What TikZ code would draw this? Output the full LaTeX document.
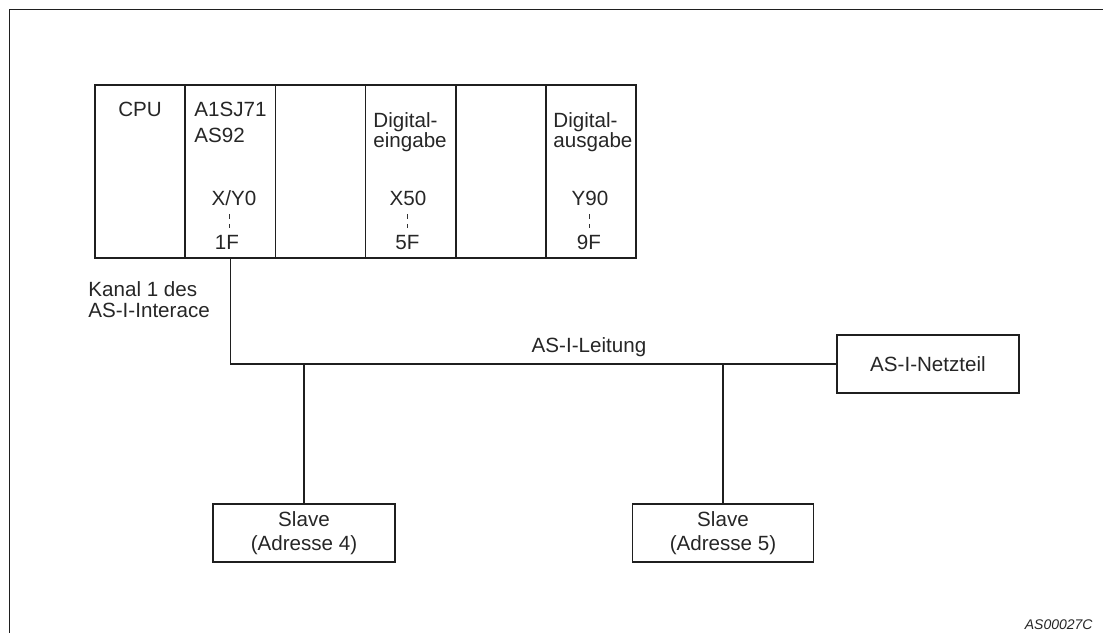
\documentclass[tikz,border=0pt]{standalone}
\usepackage{fontspec}
\setmainfont{Liberation Sans}
\begin{document}
\begin{tikzpicture}[x=0.5bp,y=-0.5bp,
  ln/.style={line width=0.75bp,draw=black!88},
  txt/.style={inner sep=0pt,font=\fontsize{10.3bp}{12bp}\selectfont,text=black!85},
  modbox/.style={ln,rectangle,inner sep=0pt,minimum width=45.1bp,minimum height=86.5bp},
  plainbox/.style={ln,rectangle,inner sep=0pt,minimum height=29bp,align=center,
     font=\fontsize{10.3bp}{12bp}\selectfont,text=black!85},
  dots/.style={line width=0.45bp,draw=black!80,dash pattern=on 2.3bp off 2.6bp}]
\useasboundingbox (0,0) rectangle (1103,633);
% frame
\draw[line width=0.7bp,black!88] (9.3,633) -- (9.3,9.3) -- (1103,9.3);
% rack modules
\node[modbox] (m1) at (140.1,171.5) {};
\node[modbox] (m2) at (230.3,171.5) {};
\node[modbox] (m3) at (320.5,171.5) {};
\node[modbox] (m4) at (410.7,171.5) {};
\node[modbox] (m5) at (500.9,171.5) {};
\node[modbox] (m6) at (591.1,171.5) {};
% module texts
\node[txt,anchor=base] (tcpu) at (140,117) {CPU};
\node[txt,anchor=base west] (ta1) at (194,117) {A1SJ71};
\node[txt,anchor=base west] (ta2) at (194,143) {AS92};
\node[txt,anchor=base] (txy) at (234,206) {X/Y0};
\node[txt,anchor=base] (t1f) at (227,250) {1F};
\draw[dots] (229,214) -- (229,229);
\node[txt,anchor=base west] (td1) at (373,128) {Digital-};
\node[txt,anchor=base west] (te1) at (373,147.5) {eingabe};
\node[txt,anchor=base] (tx50) at (408,206) {X50};
\node[txt,anchor=base] (t5f) at (407.5,250) {5F};
\draw[dots] (407,214) -- (407,229);
\node[txt,anchor=base west] (td2) at (553,128) {Digital-};
\node[txt,anchor=base west] (te2) at (553,147.5) {ausgabe};
\node[txt,anchor=base] (ty90) at (590,206) {Y90};
\node[txt,anchor=base] (t9f) at (589,250) {9F};
\draw[dots] (589,214) -- (589,229);
% labels
\node[txt,anchor=base west] (k1) at (88,297) {Kanal 1 des};
\node[txt,anchor=base west] (k2) at (88,318) {AS-I-Interace};
\node[txt,anchor=base] (lt) at (589,353) {AS-I-Leitung};
% boxes
\node[plainbox,minimum width=91bp] (netz) at (928,364) {AS-I-Netzteil};
\node[plainbox,minimum width=91bp] (s1) at (304,533) {Slave\\(Adresse 4)};
\node[plainbox,minimum width=90.5bp] (s2) at (723,533) {Slave\\(Adresse 5)};
% bus
\draw[ln] (m2.south) |- (netz.west);
\draw[ln] (s1.north) -- (s1.north |- netz.west);
\draw[ln] (s2.north) -- (s2.north |- netz.west);
% code
\node[inner sep=0pt,anchor=base east,font=\fontsize{7bp}{8bp}\selectfont\itshape,text=black!85] (code) at (1093,630) {AS00027C};
\end{tikzpicture}
\end{document}
